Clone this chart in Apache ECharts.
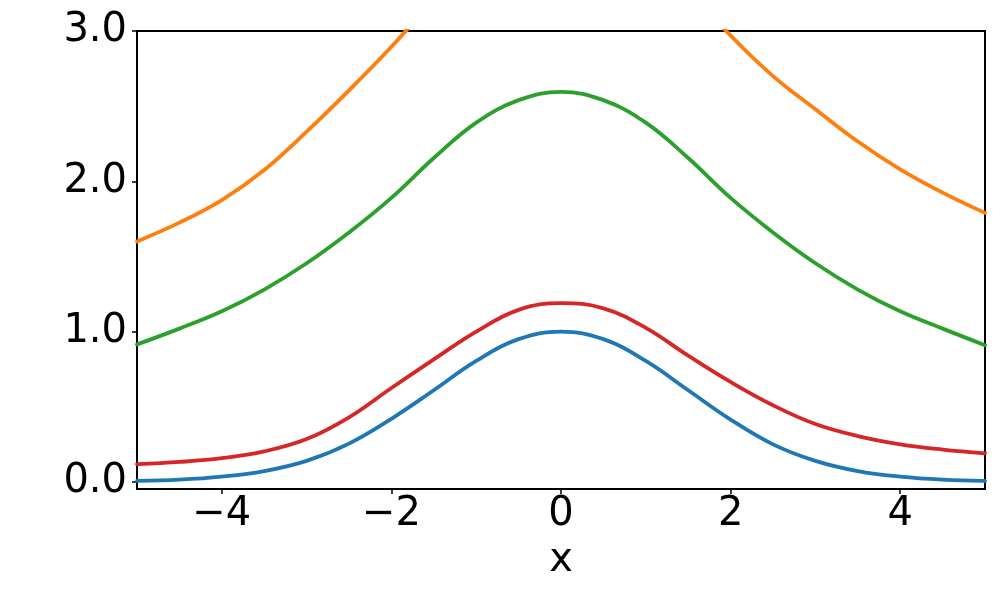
<!DOCTYPE html>
<html>
<head>
<meta charset="utf-8">
<script src="https://cdn.jsdelivr.net/npm/echarts@6/dist/echarts.min.js"></script>
<style>
  html, body { margin: 0; padding: 0; background: #fff; }
  #chart { width: 1000px; height: 600px; }
</style>
</head>
<body>
<div id="chart"></div>
<script>
var xs = [-5, -4.5, -4, -3.5, -3, -2.5, -2, -1.5, -1, -0.5, 0, 0.5, 1, 1.5, 2, 2.5, 3, 3.5, 4, 4.5, 5];
var blueVals = [0.007, 0.015, 0.035, 0.072, 0.14, 0.255, 0.42, 0.61, 0.805, 0.95, 1.0, 0.95, 0.805, 0.61, 0.415, 0.25, 0.14, 0.072, 0.035, 0.015, 0.007];
var orangeVals = [1.60, 1.725, 1.875, 2.075, 2.33, 2.605, 2.895, 3.21, 3.52, 3.76, 3.90, 3.84, 3.60, 3.28, 2.97, 2.70, 2.48, 2.265, 2.08, 1.925, 1.79];
var greenVals = [0.915, 1.02, 1.135, 1.28, 1.455, 1.66, 1.89, 2.155, 2.39, 2.54, 2.595, 2.54, 2.39, 2.155, 1.89, 1.66, 1.455, 1.28, 1.135, 1.02, 0.91];
var redVals = [0.118, 0.133, 0.158, 0.203, 0.285, 0.43, 0.625, 0.815, 1.0, 1.145, 1.19, 1.155, 1.025, 0.84, 0.665, 0.51, 0.385, 0.305, 0.25, 0.215, 0.19];
var xTicks = [-4, -2, 0, 2, 4];
var yTicks = [0, 1, 2, 3];

function pairs(vals) { return xs.map(function (x, i) { return [x, vals[i]]; }); }
function mk(name, vals, color) {
  return {
    name: name, type: 'line', data: pairs(vals), smooth: 0.4, symbol: 'none',
    lineStyle: { color: color, width: 3.8, cap: 'round', join: 'round' }, clip: true, z: 3
  };
}
var font = 'DejaVu Sans';
var chart = echarts.init(document.getElementById('chart'));
chart.setOption({
  animation: false,
  backgroundColor: '#fff',
  grid: { left: 137, right: 15, top: 31, bottom: 111, show: true, borderColor: '#000', borderWidth: 2, backgroundColor: 'transparent' },
  xAxis: {
    type: 'value', min: -5, max: 5,
    name: 'x', nameLocation: 'middle', nameGap: 52,
    nameTextStyle: { fontFamily: font, fontSize: 40, color: '#000' },
    axisLine: { show: true, onZero: false, lineStyle: { color: '#000', width: 2 } },
    axisTick: { show: true, length: 5, lineStyle: { color: '#000', width: 1.5 }, customValues: xTicks },
    axisLabel: {
      fontFamily: font, fontSize: 40, color: '#000', margin: 6, customValues: xTicks,
      formatter: function (v) { return v < 0 ? '\u2212' + Math.abs(v) : String(v); }
    },
    splitLine: { show: false }
  },
  yAxis: {
    type: 'value', min: -0.047, max: 3,
    axisLine: { show: true, onZero: false, lineStyle: { color: '#000', width: 2 } },
    axisTick: { show: true, length: 5, lineStyle: { color: '#000', width: 1.5 }, customValues: yTicks },
    axisLabel: {
      fontFamily: font, fontSize: 40, color: '#000', margin: 10, customValues: yTicks,
      formatter: function (v) { return Number(v).toFixed(1); }
    },
    splitLine: { show: false }
  },
  series: [
    mk('blue', blueVals, '#1f77b4'),
    mk('orange', orangeVals, '#ff7f0e'),
    mk('green', greenVals, '#2ca02c'),
    mk('red', redVals, '#d62728')
  ]
});
</script>
</body>
</html>
